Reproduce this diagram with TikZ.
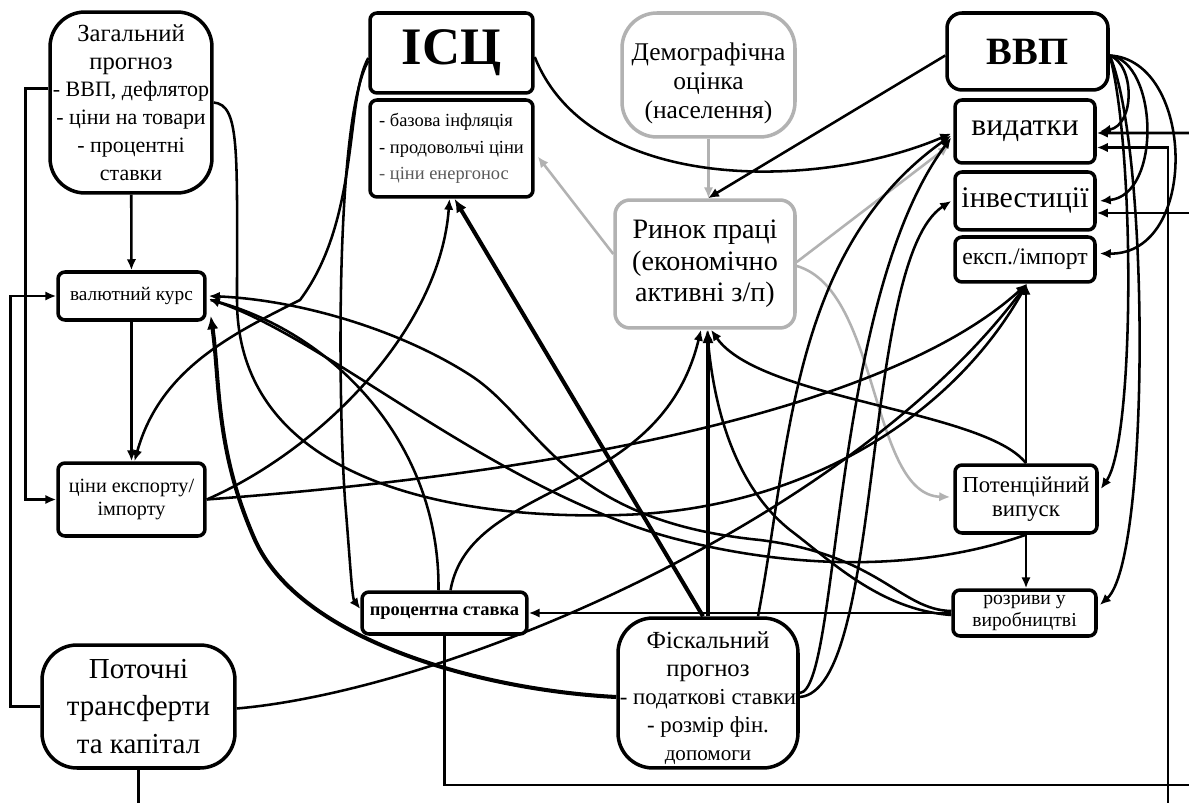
\documentclass[tikz,border=0pt]{standalone}
\usepackage{fontspec}
\setmainfont{Liberation Serif}
\usetikzlibrary{arrows.meta,calc}
\pgfdeclarelayer{bg}
\pgfsetlayers{bg,main}
\newcommand{\lowtext}[2]{\raisebox{-#1}[\height][\depth]{\begin{tabular}{@{}c@{}}#2\end{tabular}}}
\begin{document}
\begin{tikzpicture}[x=0.02cm,y=-0.02cm,
  box/.style={draw, line width=2pt, rounded corners=0.14cm, fill=white, align=center, inner sep=0pt},
  stad/.style={box, rounded corners=0.7cm},
  gbox/.style={draw=gray!60},
  ln/.style={line width=1.45pt},
  ar/.style={ln, -{Latex[length=2.2mm,width=1.9mm]}},
  thk/.style={line width=2.3pt, -{Latex[length=2.7mm,width=2.3mm]}},
  gar/.style={line width=1.45pt, gray!60, -{Latex[length=2.2mm,width=1.9mm]}}]
\useasboundingbox (0,0) rectangle (1189,803);

% nodes
\node[stad, minimum width=3.24cm, minimum height=3.62cm, font=\fontsize{12.5}{15.8}\selectfont] (zag) at (131,102.5)
  {{\fontsize{14}{15.8}\selectfont Загальний}\\{\fontsize{14}{15.8}\selectfont прогноз}\\- ВВП, дефлятор\\- ціни на товари\\- процентні\\ставки};
\node[box, minimum width=3.26cm, minimum height=1.60cm, font=\fontsize{30}{32}\selectfont\bfseries] (ics) at (451.5,53) {ІСЦ};
\node[box, align=left, minimum width=3.26cm, minimum height=1.94cm, font=\fontsize{10.5}{15.2}\selectfont] (icss) at (451.5,148.5)
  {- базова інфляція\\- продовольчі ціни\\{\color{black!65}- ціни енергонос}};
\node[stad, gbox, minimum width=3.46cm, minimum height=2.48cm, font=\fontsize{14.5}{16.3}\selectfont] (demo) at (708.5,75)
  {\lowtext{5pt}{Демографічна\\оцінка\\(населення)}};
\node[box, gbox, rounded corners=0.3cm, minimum width=3.60cm, minimum height=2.56cm, font=\fontsize{16}{18}\selectfont] (ryn) at (705,264)
  {Ринок праці\\(економічно\\активні з/п)};
\node[box, rounded corners=0.3cm, minimum width=3.22cm, minimum height=1.54cm, font=\fontsize{22}{24}\selectfont\bfseries] (vvp) at (1027.5,51.5) {ВВП};
\node[box, minimum width=2.80cm, minimum height=1.26cm, font=\fontsize{18}{20}\selectfont] (vyd) at (1025,131.5) {видатки};
\node[box, minimum width=2.80cm, minimum height=1.16cm, font=\fontsize{17}{19}\selectfont] (inv) at (1025,201) {інвестиції};
\node[box, minimum width=2.80cm, minimum height=0.90cm, font=\fontsize{13.5}{15}\selectfont] (eks) at (1025,259.5) {експ./імпорт};
\node[box, minimum width=2.94cm, minimum height=0.96cm, font=\fontsize{11}{13}\selectfont] (val) at (131.5,296) {валютний курс};
\node[box, minimum width=2.94cm, minimum height=1.46cm, font=\fontsize{11.5}{13.6}\selectfont] (tsin) at (131.5,499.5) {ціни експорту/\\імпорту};
\node[box, minimum width=2.84cm, minimum height=1.36cm, font=\fontsize{13}{14}\selectfont] (pot) at (1026,499) {Потенційний\\випуск};
\node[box, minimum width=2.86cm, minimum height=0.92cm, font=\fontsize{11.2}{12.6}\selectfont] (roz) at (1024.5,613) {розриви у\\виробництві};
\node[box, minimum width=3.30cm, minimum height=0.84cm, font=\fontsize{10.5}{12}\selectfont\bfseries] (pst) at (444.5,613) {процентна ставка};
\node[stad, minimum width=3.60cm, minimum height=3.00cm, font=\fontsize{14}{16}\selectfont] (fis) at (708,693)
  {\lowtext{3.5pt}{Фіскальний\\прогноз\\{\fontsize{13}{16}\selectfont - податкові ставки}\\{\fontsize{13}{16}\selectfont - розмір фін.}\\{\fontsize{12}{15}\selectfont допомоги}}};
\node[stad, minimum width=3.86cm, minimum height=2.46cm, font=\fontsize{16.5}{21.5}\selectfont] (pto) at (138.5,706.5)
  {Поточні\\трансферти\\та капітал};

\coordinate (b1) at (138.5,803);
\coordinate (b2) at (1189,785);
\coordinate (b3) at (1168,803);
\coordinate (r1) at (1189,133);
\coordinate (r2) at (1189,213);

\begin{pgfonlayer}{bg}
\fill[white] (0,0) rectangle (1189,803);
% straight and frame connectors
\draw[ar] (zag) -- (val);
\draw[ar] (val) -- (tsin);
\draw[ar] ($(zag.west)+(0,-14)$) -| ($(tsin.west)+(-31,0)$) -- (tsin.west);
\draw[ar] (pto.west) -| ($(val.west)+(-46,0)$) -- (val.west);
\draw[ln] (pto.south) -- (b1);
\draw[ln] (pst.south) |- (b2);
\draw[ar] (b3) |- ($(vyd.east)+(0,16)$);
\draw[ar] (r1) -- ($(vyd.east)+(0,1.5)$);
\draw[ar] (r2) -- ($(inv.east)+(0,12)$);

% VVP to the right-hand boxes
\draw[ar] ($(vvp.east)+(0,4)$) .. controls (1135,65) and (1135,125) .. ($(vyd.east)+(3,0)$);
\draw[ar] ($(vvp.east)+(0,4)$) .. controls (1158,62) and (1162,195) .. ($(inv.east)+(3,0)$);
\draw[ar] ($(vvp.east)+(0,4)$) .. controls (1195,60) and (1200,255) .. ($(eks.east)+(3,-6)$);
\draw[ar] ($(vvp.east)+(0,4)$) .. controls (1135,150) and (1135,440) .. ($(pot.east)+(2,-10)$);
\draw[ar] ($(vvp.east)+(0,4)$) .. controls (1150,150) and (1150,560) .. ($(roz.east)+(2,-8)$);

% vertical right chain
\draw[ar] (pot.north) -- (pot.north |- eks.south);
\draw[ar] (pot.south) -- (pot.south |- roz.north);
\draw[ar] (roz.west) -- (pst.east);

% grey connectors
\draw[gar] (demo.south) -- (demo.south |- ryn.north);
\draw[gar] ($(ryn.west)+(0,-10)$) -- ($(icss.east)+(3,8)$);
\draw[gar] ($(ryn.east)+(0,-2)$) -- ($(vyd.west)+(-4,14)$);
\draw[gar] ($(ryn.east)+(0,2)$) .. controls (880,290) and (870,495) .. ($(pot.west)+(-3,-2)$);

% top black connectors
\draw[ar] ($(vvp.west)+(0,4)$) -- ($(ryn.north)+(3,0)$);
\draw[ar] ($(ics.east)+(0,4)$) .. controls (590,195) and (820,190) .. ($(vyd.west)+(-2,2)$);
\draw[ar] ($(ics.west)+(0,5)$) .. controls (345,100) and (360,220) .. (300,300) .. controls (230,335) and (160,370) .. ($(tsin.north)+(3,0)$);
\draw[ar] ($(ics.west)+(0,8)$) .. controls (335,120) and (338,400) .. (345,500) .. controls (350,560) and (352,598) .. ($(pst.west)+(0,-4)$);

% fiscal forecast connectors
\draw[thk] ($(fis.north)+(-5,0)$) -- ($(icss.south)+(3,0)$);
\draw[thk] (fis.north) -- (fis.north |- ryn.south);
\draw[thk] ($(fis.west)+(0,4)$) .. controls (480,690) and (300,640) .. (255,540) .. controls (215,450) and (220,380) .. ($(val.south east)+(4,-6)$);
\draw[ar] (fis.east) .. controls (840,690) and (830,300) .. ($(vyd.west)+(-2,6)$);
\draw[ar] ($(fis.east)+(0,4)$) .. controls (885,690) and (860,260) .. ($(inv.west)+(-2,0)$);
\draw[ar] ($(fis.north)+(50,0)$) .. controls (790,450) and (790,250) .. ($(vyd.west)+(-2,4)$);

% central tangle
\draw[ar] (tsin.east) .. controls (320,450) and (440,330) .. ($(icss.south)+(-2,0)$);
\draw[ar] (tsin.east) .. controls (600,470) and (900,400) .. ($(eks.south)+(2,0)$);
\draw[ar] ($(pto.east)+(0,2)$) .. controls (450,690) and (850,520) .. ($(eks.south)+(2,0)$);
\draw[ar] (zag.east) .. controls (240,105) and (237,150) .. (237,300) .. controls (237,480) and (450,520) .. (620,515) .. controls (800,510) and (950,420) .. ($(eks.south)+(2,0)$);
\draw[ar] (pot.north) .. controls (985,410) and (760,400) .. ($(ryn.south)+(6,0)$);
\draw[ar] ($(roz.west)+(0,2)$) .. controls (880,610) and (830,560) .. (790,530) .. controls (740,490) and (715,420) .. ($(ryn.south)+(2,0)$);
\draw[ar] (pot.south) .. controls (940,565) and (820,575) .. (680,540) .. controls (500,495) and (330,340) .. ($(val.east)+(2,3)$);
\draw[ar] ($(roz.west)+(0,-2)$) .. controls (900,610) and (880,555) .. (760,540) .. controls (560,520) and (540,420) .. (470,375) .. controls (400,330) and (300,300) .. ($(val.east)+(2,0)$);
\draw[ln] ($(val.east)+(4,4)$) .. controls (330,330) and (440,440) .. ($(pst.north)+(-6,0)$);
\draw[ar] ($(pst.north)+(6,0)$) .. controls (470,480) and (660,500) .. ($(ryn.south)+(-4,0)$);
\end{pgfonlayer}
\end{tikzpicture}
\end{document}
